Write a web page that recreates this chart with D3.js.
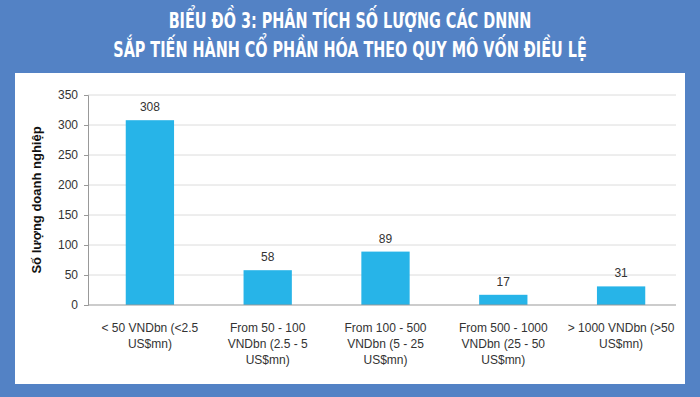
<!DOCTYPE html>
<html>
<head>
<meta charset="utf-8">
<script src="https://cdn.jsdelivr.net/npm/d3@7"></script>
<style>
  body { margin: 0; background: #5382c5; }
  svg { display: block; }
</style>
</head>
<body>
<div id="chart"></div>
<script>
/* Biểu đồ 3: số lượng DNNN theo quy mô vốn điều lệ */
var titleLines = ["BIỂU ĐỒ 3: PHÂN TÍCH SỐ LƯỢNG CÁC DNNN", "SẮP TIẾN HÀNH CỔ PHẦN HÓA THEO QUY MÔ VỐN ĐIỀU LỆ"];
var categories = [
	["< 50 VNDbn (<2.5", "US$mn)"],
	["From 50 - 100", "VNDbn (2.5 - 5", "US$mn)"],
	["From 100 - 500", "VNDbn (5 - 25", "US$mn)"],
	["From 500 - 1000", "VNDbn (25 - 50", "US$mn)"],
	["> 1000 VNDbn (>50", "US$mn)"]
];
var values = [308, 58, 89, 17, 31];
var yTicks = [0, 50, 100, 150, 200, 250, 300, 350];
var yLabel = "Số lượng doanh nghiệp";

var W = 700, H = 397;
var svg = d3.select("#chart").append("svg").attr("width", W).attr("height", H);

// tiêu đề: nén ngang cho giống chữ condensed của ảnh gốc
var titleWidths = [363, 474];
svg.append("g").selectAll("text").data(titleLines).enter().append("text")
	.attr("text-anchor", "middle")
	.attr("fill", "#fff")
	.style("font-family", "'DejaVu Sans Condensed', 'Liberation Sans Narrow', sans-serif")
	.style("font-weight", "bold")
	.style("font-size", "21px")
	.text(function(d) { return d; })
	.attr("transform", function(d, i) {
		var k = titleWidths[i] / this.getComputedTextLength();
		return "translate(" + (W / 2) + "," + (28 + i * 29) + ") scale(" + k + ",1)";
	});

// khung trắng
svg.append("rect").attr("x", 15).attr("y", 73).attr("width", 670).attr("height", 311).attr("fill", "#fff");

var m = {left: 88, right: 676, top: 95, bottom: 305};
var x = d3.scaleBand().domain(d3.range(values.length)).range([91, 680]).paddingInner(0.59).paddingOuter(0.295);
var y = d3.scaleLinear().domain([0, 350]).range([m.bottom, m.top]);

var font = "'Liberation Sans', Arial, sans-serif";

// lưới
svg.append("g").selectAll("line").data(yTicks.slice(1)).enter().append("line")
	.attr("x1", m.left).attr("x2", m.right)
	.attr("y1", function(d) { return y(d); }).attr("y2", function(d) { return y(d); })
	.attr("stroke", "#dcdcdc");

var yAxis = svg.append("g").attr("transform", "translate(" + m.left + ",0)")
	.call(d3.axisLeft(y).tickValues(yTicks).tickSize(4).tickPadding(6));
yAxis.select(".domain").attr("stroke", "#999");
yAxis.selectAll(".tick line").attr("stroke", "#999");
yAxis.selectAll("text").attr("fill", "#333").style("font-family", font).style("font-size", "12px");

// cột
svg.append("g").selectAll("rect").data(values).enter().append("rect")
	.attr("x", function(d, i) { return x(i); })
	.attr("width", x.bandwidth())
	.attr("y", function(d) { return y(d); })
	.attr("height", function(d) { return y(0) - y(d); })
	.attr("fill", "#27b4e8");

svg.append("g").selectAll("text").data(values).enter().append("text")
	.attr("x", function(d, i) { return x(i) + x.bandwidth() / 2; })
	.attr("y", function(d) { return y(d) - 9; })
	.attr("text-anchor", "middle")
	.attr("fill", "#333")
	.style("font-family", font).style("font-size", "12px")
	.text(function(d) { return d; });

// trục x
svg.append("line").attr("x1", m.left).attr("x2", m.right).attr("y1", m.bottom).attr("y2", m.bottom).attr("stroke", "#999");

var labels = svg.append("g").selectAll("text").data(categories).enter().append("text")
	.attr("text-anchor", "middle")
	.attr("fill", "#333")
	.style("font-family", font).style("font-size", "12px");
labels.each(function(lines, i) {
	var t = d3.select(this);
	lines.forEach(function(l, j) {
		t.append("tspan").attr("x", x(i) + x.bandwidth() / 2).attr("y", 332 + j * 16).text(l);
	});
});

// nhãn trục y
svg.append("text")
	.attr("transform", "translate(41,200) rotate(-90)")
	.attr("text-anchor", "middle")
	.attr("fill", "#111")
	.style("font-family", font).style("font-weight", "bold").style("font-size", "13px")
	.text(yLabel);
</script>
</body>
</html>
